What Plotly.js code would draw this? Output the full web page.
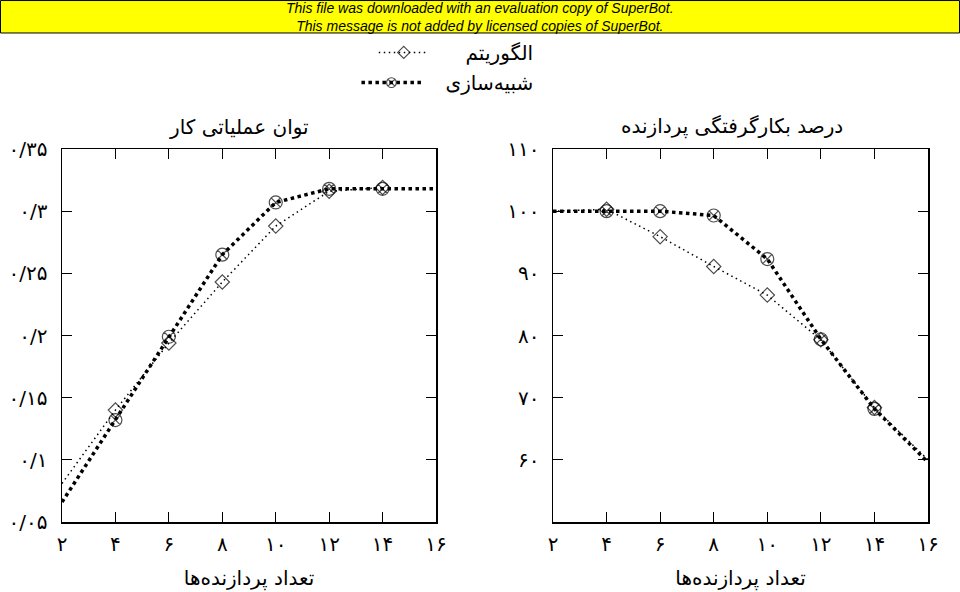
<!DOCTYPE html>
<html>
<head>
<meta charset="utf-8">
<script src="https://cdn.plot.ly/plotly-3.0.1.min.js"></script>
<style>
  html, body { margin: 0; padding: 0; background: #fff; }
  #myPlot { width: 960px; height: 592px; }
</style>
</head>
<body>
<div id="myPlot"></div>
<script>
// processors on the x axis
let procs = [2, 4, 6, 8, 10, 12, 14, 16];
let procLabels = ["۲", "۴", "۶", "۸", "۱۰", "۱۲", "۱۴", "۱۶"];

// throughput (left)
let thrSim = [0.066, 0.132, 0.199, 0.265, 0.307, 0.318, 0.318, 0.318];
let thrAlg = [0.081, 0.140, 0.194, 0.243, 0.288, 0.316, 0.319];
let thrTicks = [0.05, 0.1, 0.15, 0.2, 0.25, 0.3, 0.35];
let thrLabels = ["۰/۰۵", "۰/۱", "۰/۱۵", "۰/۲", "۰/۲۵", "۰/۳", "۰/۳۵"];

// processor utilisation (right)
let utilSim = [100, 100, 100, 99.3, 92.3, 79.4, 68.2, 59.6];
let utilAlg = [100, 100.3, 95.9, 91.1, 86.5, 79.3, 68.4, 60];
let utilTicks = [60, 70, 80, 90, 100, 110];
let utilLabels = ["۶۰", "۷۰", "۸۰", "۹۰", "۱۰۰", "۱۱۰"];

// nbsp pad keeps the gap between sample and name
let nameAlg = "\u00A0\u00A0\u00A0\u00A0\u00A0الگوریتم";
let nameSim = "\u00A0\u00A0\u00A0شبیه‌سازی";

let fnt = "DejaVu Sans, sans-serif";

// no marker on the two end points
function markSizes(xs, s) {
  return xs.map(function(x) { return (x === 2 || x === 16) ? 0 : s; });
}

function simTrace(x, y, xa, ya, show) {
  return {
    x: x, y: y, xaxis: xa, yaxis: ya,
    name: nameSim, legend: "legend2", showlegend: show,
    mode: "lines+markers", type: "scatter",
    line: {color: "black", width: 3.5, dash: "3.5px,3.5px"},
    marker: {symbol: "circle-x-open", size: markSizes(x, 13), color: "black", line: {width: 1.2, color: "black"}},
    cliponaxis: false
  };
}
function algTrace(x, y, xa, ya, show) {
  return {
    x: x, y: y, xaxis: xa, yaxis: ya,
    name: nameAlg, legend: "legend", showlegend: show,
    mode: "lines+markers", type: "scatter",
    line: {color: "black", width: 1.5, dash: "1.5px,3.5px"},
    marker: {symbol: "diamond-open", size: markSizes(x, 11), color: "black", line: {width: 1.2, color: "black"}},
    cliponaxis: false
  };
}

var data = [
  simTrace(procs, thrSim, "x", "y", true),
  algTrace(procs.slice(0, thrAlg.length), thrAlg, "x", "y", true),
  simTrace(procs, utilSim, "x2", "y2", false),
  algTrace(procs, utilAlg, "x2", "y2", false)
];

function xAxis(dom, anchor) {
  return {
    domain: dom, anchor: anchor, range: [2, 16],
    tickvals: procs, ticktext: procLabels,
    ticks: "inside", ticklen: 10, tickcolor: "black", tickwidth: 1,
    mirror: "allticks", showline: true, linecolor: "black", linewidth: 1.5,
    showgrid: false, zeroline: false, ticklabelstandoff: 3,
    tickfont: {family: fnt, size: 20, color: "black"},
    title: {text: "تعداد پردازنده‌ها", font: {family: fnt, size: 20, color: "black"}, standoff: 16}
  };
}
function yAxis(range, vals, labels, anchor, off) {
  return {
    anchor: anchor, range: range, domain: [0, 1],
    tickvals: vals, ticktext: labels,
    ticks: "inside", ticklen: 10, tickcolor: "black", tickwidth: 1,
    mirror: "allticks", showline: true, linecolor: "black", linewidth: 1.5,
    showgrid: false, zeroline: false, ticklabelstandoff: off,
    tickfont: {family: fnt, size: 20, color: "black"}
  };
}

var layout = {
  width: 960, height: 592,
  margin: {l: 62, r: 32, t: 149, b: 70},
  paper_bgcolor: "white", plot_bgcolor: "white",
  font: {family: fnt, color: "black"},
  xaxis: xAxis([0, 0.4319], "y"),
  yaxis: yAxis([0.05, 0.35], thrTicks, thrLabels, "x", 9),
  xaxis2: xAxis([0.567, 1], "y2"),
  yaxis2: yAxis([50, 110], utilTicks, utilLabels, "x2", 8),
  legend: {
    x: 0.36, y: 1.259, xanchor: "left", yanchor: "middle",
    bgcolor: "rgba(0,0,0,0)", itemwidth: 50,
    font: {family: fnt, size: 20, color: "black"}
  },
  legend2: {
    x: 0.34, y: 1.178, xanchor: "left", yanchor: "middle",
    bgcolor: "rgba(0,0,0,0)", itemwidth: 60,
    font: {family: fnt, size: 20, color: "black"}
  },
  shapes: [{
    type: "rect", xref: "paper", yref: "paper",
    x0: -0.0710, x1: 1.0364, y0: 1.311, y1: 1.398,
    fillcolor: "#ffff00", line: {color: "black", width: 1}, layer: "below"
  }],
  annotations: [
    {
      text: "This file was downloaded with an evaluation copy of SuperBot.<br>This message is not added by licensed copies of SuperBot.",
      xref: "paper", yref: "paper", x: 0.4827, y: 1.354, xanchor: "center", yanchor: "middle", showarrow: false,
      font: {family: "Liberation Sans Narrow, Liberation Sans, sans-serif", size: 14, style: "italic", color: "black"}
    },
    {
      text: "توان عملیاتی کار", xref: "paper", yref: "paper", x: 0.2044, y: 1.059,
      xanchor: "center", yanchor: "middle",
      showarrow: false, font: {family: fnt, size: 20, color: "black"}
    },
    {
      text: "درصد بکارگرفتگی پردازنده", xref: "paper", yref: "paper", x: 0.7737, y: 1.059,
      xanchor: "center", yanchor: "middle",
      showarrow: false, font: {family: fnt, size: 20, color: "black"}
    }
  ],
  showlegend: true
};

Plotly.newPlot("myPlot", data, layout, {staticPlot: true});
</script>
</body>
</html>
